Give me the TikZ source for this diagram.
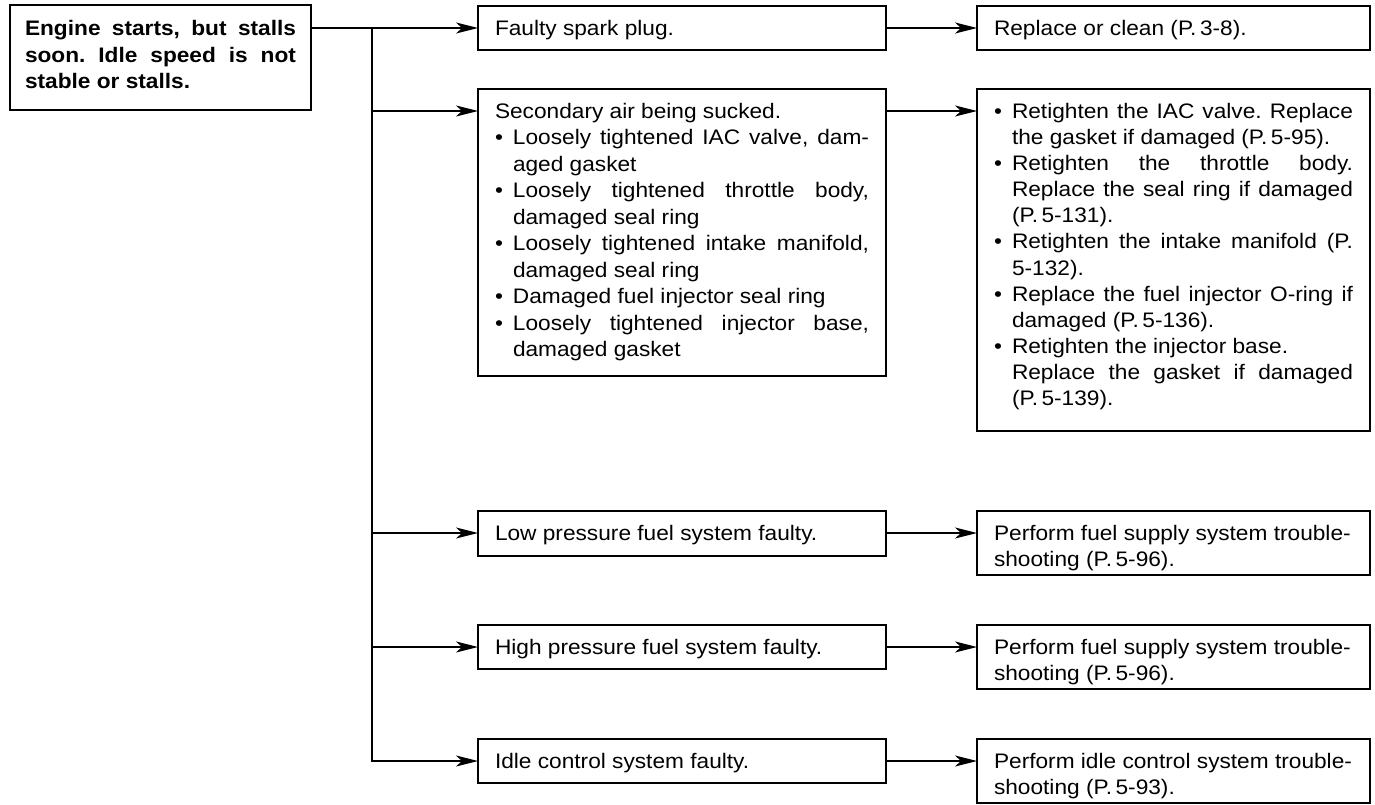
\documentclass[tikz,border=0pt]{standalone}
\usepackage{fontspec}
\setmainfont{Liberation Sans}[FakeStretch=1.08]
\usetikzlibrary{arrows.meta,calc}

% bullet item with hanging indent
\newcommand\bitem{\par\hangindent=18pt\hangafter=1\noindent\makebox[18pt][l]{\textbullet}}
% strut fixing the first baseline below the box top
\newcommand\firstline{\rule{0pt}{29.5pt}}
% fixed-size text block: width, height, baselineskip, text
\newcommand\celltext[4]{\parbox[t][#2][t]{#1}{\fontsize{21pt}{#3}\selectfont\frenchspacing\hyphenpenalty=10000 #4}}

\tikzset{
  box/.style={draw, line width=1.6pt, inner xsep=17pt, inner ysep=0pt, outer sep=0pt, anchor=north west},
  conn/.style={line width=1.5pt},
  arr/.style={conn, -{Stealth[length=22pt,width=11pt,inset=6pt]}},
}

\begin{document}
\begin{tikzpicture}[x=1pt,y=-1pt]
\useasboundingbox (0,0) rectangle (1375,805);
\fill[white] (0,0) rectangle (1375,805);

% symptom
\node[box, inner xsep=15pt] (main) at (10,5)
  {\celltext{271pt}{105pt}{26.6pt}{\bfseries\rule{0pt}{30.5pt}Engine starts, but stalls\linebreak soon. Idle speed is not\linebreak stable or stalls.}};

% causes
\node[box] (f1) at (478,6) {\celltext{374pt}{44pt}{26.4pt}{\firstline Faulty spark plug.}};
\node[box] (f2) at (478,89) {\celltext{374pt}{287pt}{26.45pt}{\firstline Secondary air being sucked.%
  \bitem Loosely tightened IAC valve, dam-\linebreak aged gasket
  \bitem Loosely tightened throttle body,\linebreak damaged seal ring
  \bitem Loosely tightened intake manifold,\linebreak damaged seal ring
  \bitem Damaged fuel injector seal ring
  \bitem Loosely tightened injector base,\linebreak damaged gasket}};
\node[box] (f3) at (478,511) {\celltext{374pt}{45pt}{26.4pt}{\firstline Low pressure fuel system faulty.}};
\node[box] (f4) at (478,625) {\celltext{374pt}{44pt}{26.4pt}{\firstline High pressure fuel system faulty.}};
\node[box] (f5) at (478,739) {\celltext{374pt}{44pt}{26.4pt}{\firstline Idle control system faulty.}};

% remedies
\node[box] (r1) at (977,6) {\celltext{359pt}{44pt}{26.4pt}{\firstline Replace or clean (P.\,3-8).}};
\node[box] (r2) at (977,89) {\celltext{359pt}{342pt}{26.1pt}{%
  \bitem\firstline Retighten the IAC valve. Replace\linebreak the gasket if damaged (P.\,5-95).
  \bitem Retighten the throttle body.\linebreak Replace the seal ring if damaged\linebreak (P.\,5-131).
  \bitem Retighten the intake manifold (P.\linebreak 5-132).
  \bitem Replace the fuel injector O-ring if\linebreak damaged (P.\,5-136).
  \bitem Retighten the injector base.\newline Replace the gasket if damaged\linebreak (P.\,5-139).}};
\node[box] (r3) at (977,511) {\celltext{359pt}{64pt}{26.4pt}{\firstline Perform fuel supply system trouble-\newline shooting (P.\,5-96).}};
\node[box] (r4) at (977,625) {\celltext{359pt}{64pt}{26.4pt}{\firstline Perform fuel supply system trouble-\newline shooting (P.\,5-96).}};
\node[box] (r5) at (977,739) {\celltext{359pt}{64pt}{26.4pt}{\firstline Perform idle control system trouble-\newline shooting (P.\,5-93).}};

% connector levels
\coordinate (y1) at (0,28);
\coordinate (y2) at (0,111);
\coordinate (y3) at (0,533);
\coordinate (y4) at (0,647);
\coordinate (y5) at (0,761);
\coordinate (jtop) at (372,28);

\draw[arr] (main.east |- y1) -- (f1.west |- y1);
\draw[arr] (jtop) -- (jtop |- y5) -- (f5.west |- y5);
\foreach \i in {2,3,4} \draw[arr] (jtop |- y\i) -- (f\i.west |- y\i);
\foreach \i in {1,...,5} \draw[arr] (f\i.east |- y\i) -- (r\i.west |- y\i);
\end{tikzpicture}
\end{document}
